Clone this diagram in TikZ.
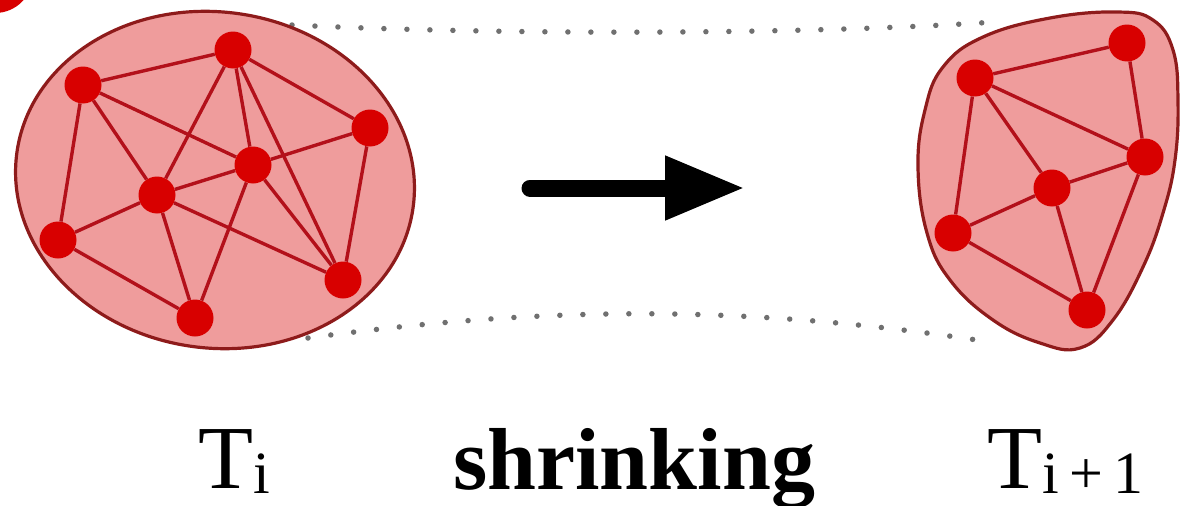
\documentclass[tikz,border=0pt]{standalone}
\usepackage{fontspec}
\setmainfont{Liberation Serif}
\usetikzlibrary{arrows.meta}
\definecolor{blobfill}{HTML}{EF9C9C}
\definecolor{blobline}{HTML}{8E1B1B}
\definecolor{vtxred}{HTML}{D80000}
\definecolor{edgred}{HTML}{B3101A}
\definecolor{dotgray}{HTML}{707070}
\tikzset{
  blob/.style={draw=blobline, fill=blobfill, line width=3.2pt},
  vtx/.style={circle, fill=vtxred, inner sep=0pt, minimum size=37pt},
  edg/.style={draw=edgred, line width=3.4pt},
  dots/.style={draw=dotgray, line width=5.5pt, line cap=round, dash pattern=on 0pt off 23pt},
  bigarrow/.style={-{Triangle[length=80pt, width=60pt]}, line width=17pt, line cap=round},
  lbl/.style={font=\fontsize{90}{100}\selectfont, inner sep=0pt, anchor=base west},
  sub/.style={font=\fontsize{60}{60}\selectfont, inner sep=0pt, anchor=base west}
}

\begin{document}
\begin{tikzpicture}[x=1pt, y=-1pt]
  \useasboundingbox (0,0) rectangle (1184,506);
  % cut-off mark in the corner
  \fill[vtxred] (-5,-25) circle (38);
  % dotted guides
  \draw[dots] (292,25) .. controls (500,35) and (800,35) .. (995,22);
  \draw[dots] (308,338) .. controls (550,305) and (750,305) .. (990,342);
  % blobs
  \path[blob, rotate around={-8:(215,180)}] (215,180) ellipse [x radius=200pt, y radius=168pt];
  \path[blob] plot[smooth cycle, tension=0.7] coordinates {
    (943,67) (983,37) (1050,18) (1117,12) (1153,20) (1173,50) (1178,100)
    (1175,160) (1163,213) (1143,267) (1113,320) (1080,348) (1040,343)
    (993,320) (950,280) (927,233) (918,167) (925,110)};
  % T_i graph
  \node[vtx] (l1) at (83,85) {};
  \node[vtx] (l2) at (233,50) {};
  \node[vtx] (l3) at (370,128) {};
  \node[vtx] (l4) at (253,165) {};
  \node[vtx] (l5) at (157,195) {};
  \node[vtx] (l6) at (58,240) {};
  \node[vtx] (l7) at (195,318) {};
  \node[vtx] (l8) at (343,280) {};
  \foreach \a/\b in {l1/l2,l1/l6,l1/l5,l1/l4,l2/l5,l2/l4,l2/l8,l2/l3,l3/l4,
    l3/l8,l4/l5,l4/l7,l4/l8,l5/l6,l5/l7,l5/l8,l6/l7} \draw[edg] (\a)--(\b);
  % T_{i+1} graph
  \node[vtx] (r1) at (1127,43) {};
  \node[vtx] (r2) at (975,78) {};
  \node[vtx] (r3) at (1145,157) {};
  \node[vtx] (r4) at (1052,188) {};
  \node[vtx] (r5) at (953,233) {};
  \node[vtx] (r6) at (1087,310) {};
  \foreach \a/\b in {r1/r2,r1/r3,r2/r3,r2/r4,r2/r5,r4/r3,r4/r5,r4/r6,r5/r6,
    r3/r6} \draw[edg] (\a)--(\b);
  % arrow and labels
  \coordinate (from) at (530,188);
  \coordinate (to) at (745,188);
  \draw[bigarrow] (from) -- (to);
  \node[lbl] (ti) at (198,488) {T};
  \node[sub] (tisub) at ([yshift=-5pt]ti.base east) {i};
  \node[lbl, font=\fontsize{88}{100}\selectfont\bfseries] (shr) at (453,489) {shrinking};
  \node[lbl] (tn) at (987,488) {T};
  \node[sub] (tnsub) at ([yshift=-5pt]tn.base east) {i\,+\,1};
\end{tikzpicture}
\end{document}
